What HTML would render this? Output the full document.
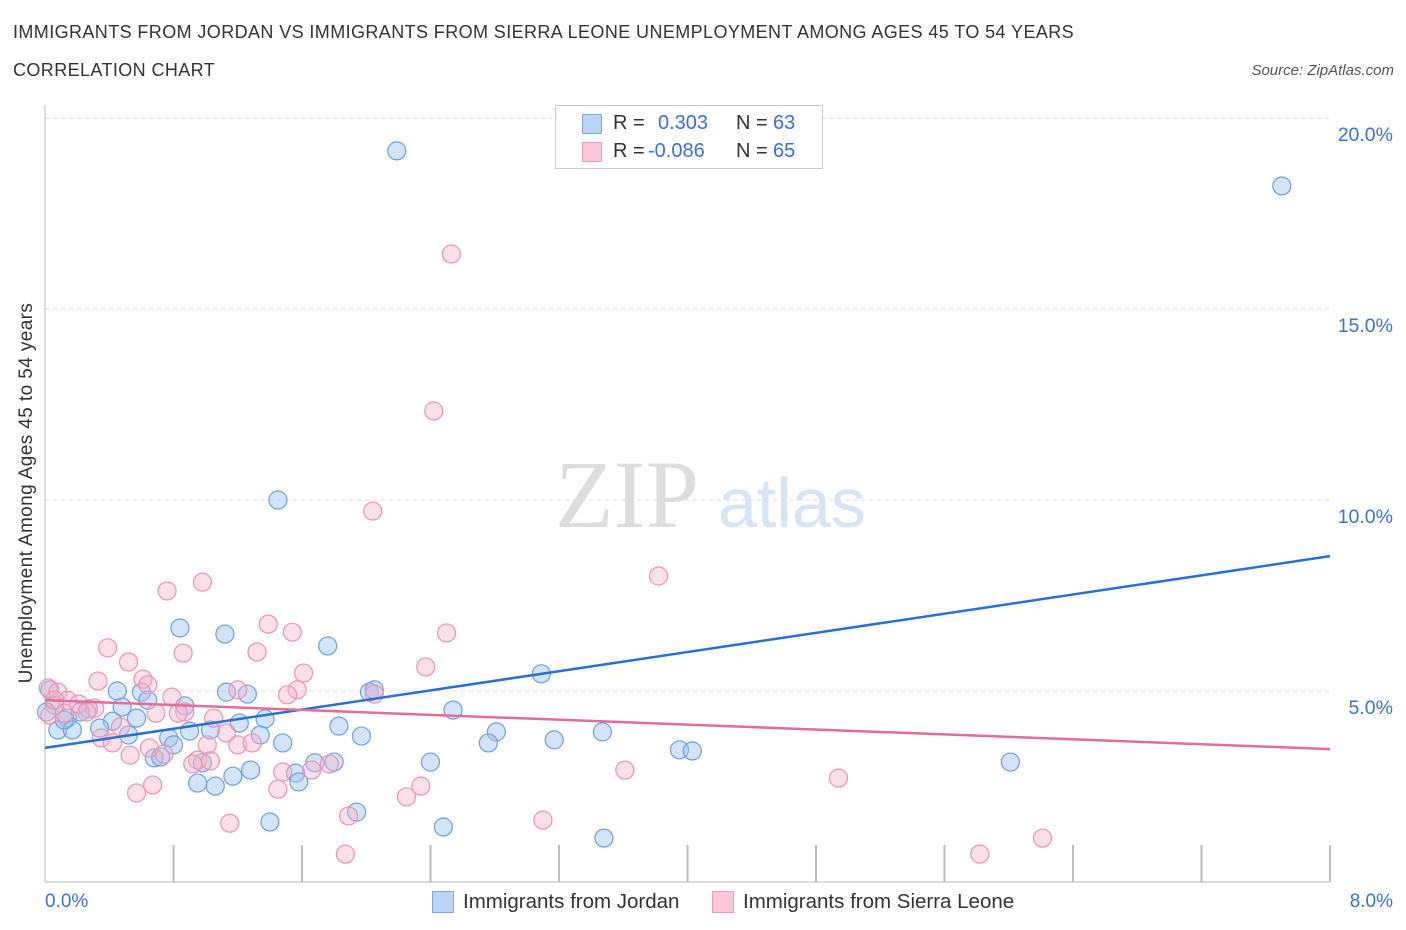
<!DOCTYPE html>
<html><head><meta charset="utf-8"><style>
body{margin:0;background:#fff;font-family:"Liberation Sans",sans-serif;}
#wrap{position:relative;width:1406px;height:930px;overflow:hidden;}
.t{position:absolute;white-space:nowrap;}
</style></head><body>
<div id="wrap">
<div class="t" style="left:13px;top:22px;font-size:18px;letter-spacing:0.4px;color:#333;">IMMIGRANTS FROM JORDAN VS IMMIGRANTS FROM SIERRA LEONE UNEMPLOYMENT AMONG AGES 45 TO 54 YEARS</div>
<div class="t" style="left:13px;top:60px;font-size:18px;letter-spacing:0.4px;color:#333;">CORRELATION CHART</div>
<div class="t" style="right:12px;top:62px;font-size:15px;color:#555;font-style:italic;">Source: ZipAtlas.com</div>
<svg id="svg" width="1406" height="930" style="position:absolute;left:0;top:0"></svg>
<div style="position:absolute;left:555px;top:105px;width:266px;height:62px;border:1px solid #ccc;background:#fff;font-size:20px;">
  <div style="position:absolute;left:26px;top:8px;width:18px;height:18px;background:#bcd5f7;border:1px solid #7aaae6;"></div>
  <div class="t" style="left:57px;top:6px;color:#333;">R = </div>
  <div class="t" style="left:102px;top:6px;color:#3a72cc;">0.303</div>
  <div class="t" style="left:180px;top:6px;color:#333;">N = </div>
  <div class="t" style="left:217px;top:6px;color:#3a72cc;">63</div>
  <div style="position:absolute;left:26px;top:36px;width:18px;height:18px;background:#fac8d8;border:1px solid #ec9ab5;"></div>
  <div class="t" style="left:57px;top:34px;color:#333;">R = </div>
  <div class="t" style="left:92px;top:34px;color:#3a72cc;">-0.086</div>
  <div class="t" style="left:180px;top:34px;color:#333;">N = </div>
  <div class="t" style="left:217px;top:34px;color:#3a72cc;">65</div>
</div>
<div class="t" style="left:27px;top:493px;font-size:19px;letter-spacing:0.4px;color:#333;transform:translate(-50%,-50%) rotate(-90deg);">Unemployment Among Ages 45 to 54 years</div>
<div class="t" style="left:45px;top:891px;font-size:19px;color:#3a72cc;">0.0%</div>
<div class="t" style="right:13px;top:891px;font-size:19px;color:#3a72cc;">8.0%</div>
<div style="position:absolute;left:432px;top:891px;">
  <div style="position:absolute;left:0;top:0;width:20px;height:20px;background:#bcd5f7;border:1px solid #7aaae6;"></div>
  <div class="t" style="left:31px;top:-1px;font-size:20.5px;color:#333;">Immigrants from Jordan</div>
</div>
<div style="position:absolute;left:712px;top:891px;">
  <div style="position:absolute;left:0;top:0;width:20px;height:20px;background:#fac8d8;border:1px solid #ec9ab5;"></div>
  <div class="t" style="left:31px;top:-1px;font-size:20.5px;color:#333;">Immigrants from Sierra Leone</div>
</div>
</div>
<script>
const jordanX=[2.19,7.70,1.45,0.84,1.12,1.76,3.09,0.45,0.60,1.13,1.26,2.02,2.05,0.64,0.87,0.48,0.27,2.54,0.06,0.03,0.57,0.42,0.14,1.37,1.21,1.83,0.34,0.08,0.17,1.03,0.90,0.52,1.97,2.81,3.47,0.77,0.80,1.34,1.48,3.17,2.76,0.68,0.72,1.68,1.80,2.40,3.95,4.03,6.01,0.98,1.28,1.17,1.56,1.58,0.95,1.06,1.94,1.40,2.48,3.48,0.12,0.01,0.22];
const jordanY=[19.14,18.22,10.0,6.65,6.49,6.18,5.45,5.0,4.97,4.97,4.92,4.97,5.03,4.76,4.61,4.58,4.53,4.50,4.63,5.03,4.29,4.21,4.29,4.27,4.16,4.08,4.03,3.98,3.98,3.98,3.95,3.85,3.82,3.93,3.93,3.77,3.59,3.85,3.64,3.72,3.64,3.25,3.27,3.12,3.14,3.14,3.46,3.43,3.14,3.12,2.93,2.77,2.85,2.62,2.59,2.51,1.83,1.57,1.44,1.15,4.24,4.45,4.45];
const leoneX=[2.53,2.42,2.04,3.82,0.98,0.76,1.39,1.54,2.50,0.39,0.86,1.32,0.52,2.37,1.61,0.33,0.61,0.64,1.20,1.57,1.51,0.02,0.08,0.14,0.79,0.21,0.31,0.87,0.83,1.05,1.13,2.05,0.69,0.47,0.65,1.01,1.20,1.29,0.95,0.92,1.03,0.35,0.42,0.53,0.74,1.77,1.66,1.48,1.45,2.34,2.25,0.57,0.67,1.89,1.15,3.10,3.61,4.94,6.21,5.82,1.87,0.03,0.06,0.26,0.12];
const leoneY=[16.44,12.33,9.71,8.01,7.85,7.62,6.75,6.54,6.52,6.13,5.99,6.02,5.76,5.63,5.47,5.26,5.31,5.16,5.03,5.03,4.90,5.08,4.97,4.76,4.84,4.66,4.55,4.45,4.42,4.29,3.90,4.92,4.42,4.06,3.51,3.59,3.59,3.64,3.19,3.09,3.17,3.77,3.64,3.32,3.35,3.09,2.93,2.88,2.43,2.51,2.23,2.33,2.54,1.73,1.54,1.62,2.93,2.72,1.15,0.73,0.73,4.37,4.76,4.45,4.42];
const jordanTrend=[3.51,8.53];
const leoneTrend=[4.76,3.48];
const xDomain=[0,8];
const yTicks=[5,10,15,20];
const yTickLabels=["5.0%","10.0%","15.0%","20.0%"];
const X=v=>45+(v-xDomain[0])/(xDomain[1]-xDomain[0])*1285;
const Y=v=>882-v*38.2;
const svg=document.getElementById('svg');
const NS='http://www.w3.org/2000/svg';
function mk(tag,attrs){const e=document.createElementNS(NS,tag);for(const k in attrs)e.setAttribute(k,attrs[k]);svg.appendChild(e);return e;}
yTicks.forEach((t,i)=>{
  const g=mk('line',{x1:45,x2:1330,y1:Y(t),y2:Y(t),stroke:'#ddd','stroke-dasharray':'4,4'});
  
  
  const tx=mk('text',{x:1393,y:Y(t)+23,'text-anchor':'end','font-size':19.5,fill:'#3a72cc','font-family':'Liberation Sans'});
  tx.textContent=yTickLabels[i];
  
  
});
const ax=mk('line',{x1:45,x2:45,y1:105,y2:882,stroke:'#bbb'});


const bx=mk('line',{x1:45,x2:1330,y1:882,y2:882,stroke:'#bbb'});


for(let i=1;i<=10;i++){
  const tk=mk('line',{x1:X(i*0.8),x2:X(i*0.8),y1:845,y2:882,stroke:'#bbb','stroke-width':2});
  
  
}
const w1=mk('text',{x:555,y:527,'font-size':96,fill:'#ddd','font-family':'Liberation Serif'});
w1.textContent='ZIP';


const w2=mk('text',{x:718,y:527,'font-size':70,fill:'#d6e4f5','font-family':'Liberation Sans'});
w2.textContent='atlas';


jordanX.forEach((v,i)=>{
  const c=mk('circle',{cx:X(v),cy:Y(jordanY[i]),r:9,fill:'rgba(160,196,240,0.45)',stroke:'#6c9fe0','stroke-width':1.2});
  
  
});
leoneX.forEach((v,i)=>{
  const c=mk('circle',{cx:X(v),cy:Y(leoneY[i]),r:9,fill:'rgba(248,178,200,0.4)',stroke:'#eb93b0','stroke-width':1.2});
  
  
});
const l1=mk('line',{x1:X(0),x2:X(8),y1:Y(jordanTrend[0]),y2:Y(jordanTrend[1]),stroke:'#2a6fd6','stroke-width':2.5});


const l2=mk('line',{x1:X(0),x2:X(8),y1:Y(leoneTrend[0]),y2:Y(leoneTrend[1]),stroke:'#e46c98','stroke-width':2.5});


</script>
</body></html>
